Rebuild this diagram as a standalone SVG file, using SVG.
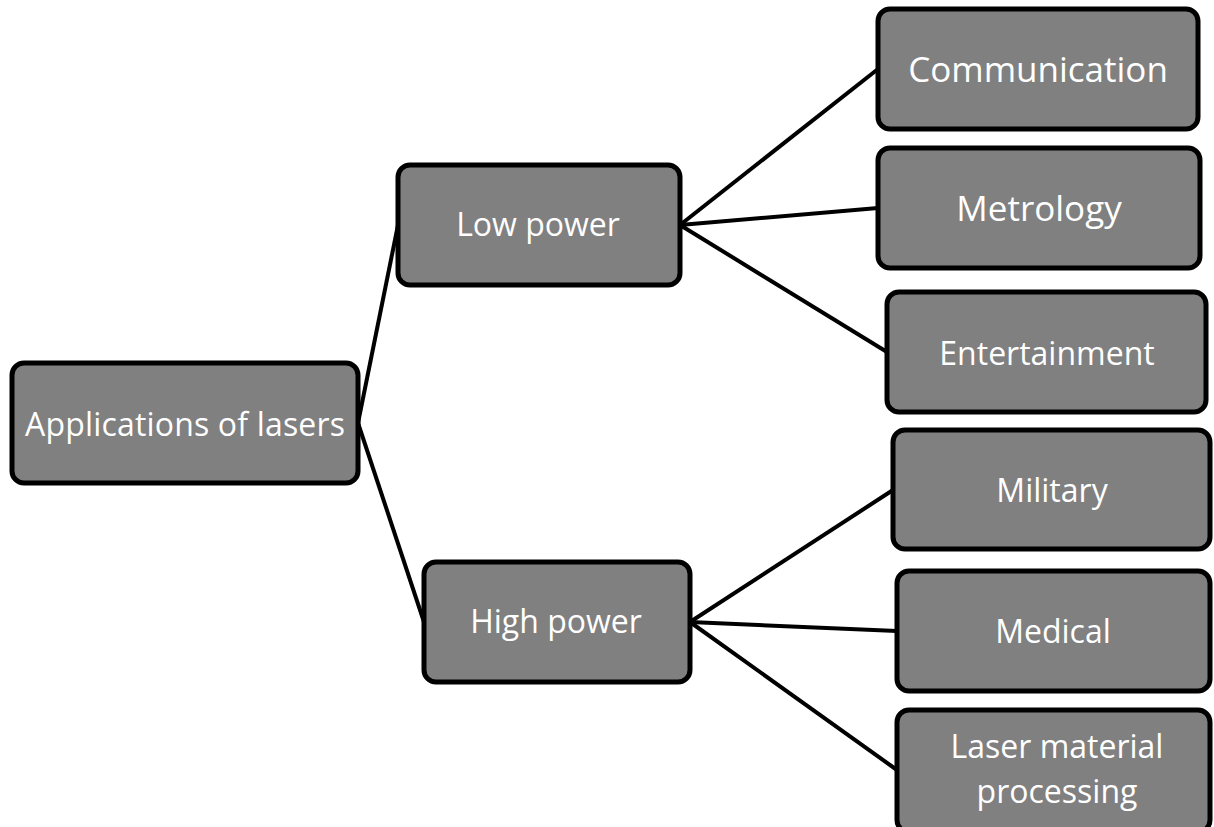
<svg xmlns="http://www.w3.org/2000/svg" width="1214" height="827" viewBox="0 0 1214 827">
<style>
.box{fill:#808080;stroke:#000;stroke-width:5}
.t{font-family:"Open Sans","Noto Sans",sans-serif;font-size:32px;fill:#fff;text-anchor:middle;dominant-baseline:central}
.lg{font-size:35px}
.c{stroke:#000;stroke-width:4;fill:none}
</style>
<rect width="1214" height="827" fill="#fff"/>
<g id="connectors">
<line class="c" x1="358" y1="423" x2="398" y2="225"/>
<line class="c" x1="358" y1="423" x2="424" y2="622"/>
<line class="c" x1="680" y1="225" x2="878" y2="69"/>
<line class="c" x1="680" y1="225" x2="878" y2="208"/>
<line class="c" x1="680" y1="225" x2="887" y2="352"/>
<line class="c" x1="690" y1="622" x2="893" y2="490"/>
<line class="c" x1="690" y1="622" x2="897" y2="631"/>
<line class="c" x1="690" y1="622" x2="897" y2="770"/>
</g>
<g id="root"><rect class="box" x="12" y="363" width="346" height="120" rx="12"/><text class="t" x="185" y="423" textLength="320">Applications of lasers</text></g>
<g id="low"><rect class="box" x="398" y="165" width="282" height="120" rx="12"/><text class="t" x="538" y="223">Low power</text></g>
<g id="high"><rect class="box" x="424" y="562" width="266" height="120" rx="12"/><text class="t" x="556" y="620">High power</text></g>
<g id="communication"><rect class="box" x="878" y="9" width="320" height="120" rx="12"/><text class="t lg" x="1038" y="68">Communication</text></g>
<g id="metrology"><rect class="box" x="878" y="148" width="322" height="120" rx="12"/><text class="t lg" x="1039" y="207">Metrology</text></g>
<g id="entertainment"><rect class="box" x="887" y="292" width="319" height="120" rx="12"/><text class="t" x="1047" y="352">Entertainment</text></g>
<g id="military"><rect class="box" x="893" y="430" width="317" height="119" rx="12"/><text class="t" x="1052" y="489">Military</text></g>
<g id="medical"><rect class="box" x="897" y="571" width="313" height="120" rx="12"/><text class="t" x="1053" y="630">Medical</text></g>
<g id="lmp"><rect class="box" x="897" y="710" width="313" height="122" rx="12"/><text class="t" x="1057" y="745">Laser material</text><text class="t" x="1057" y="790">processing</text></g>
</svg>
